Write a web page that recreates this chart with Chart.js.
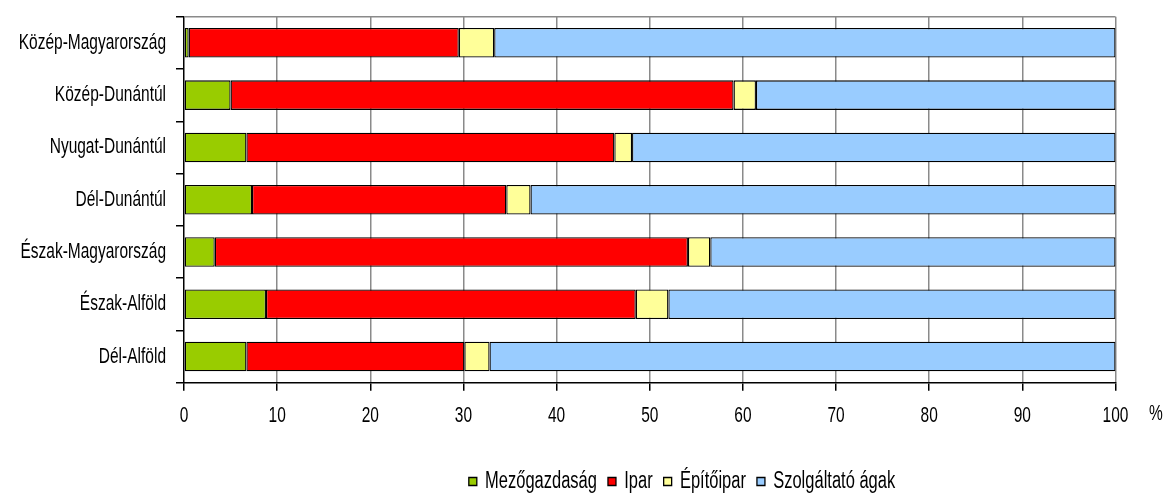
<!DOCTYPE html>
<html>
<head>
<meta charset="utf-8">
<script src="https://cdn.jsdelivr.net/npm/chart.js@4/dist/chart.umd.min.js"></script>
<style>
  html, body { margin: 0; padding: 0; background: #fff; }
</style>
</head>
<body>
<canvas id="regionChart" width="1169" height="494"></canvas>
<script>
// Regions (top to bottom)
const regions = [
  'Közép-Magyarország',
  'Közép-Dunántúl',
  'Nyugat-Dunántúl',
  'Dél-Dunántúl',
  'Észak-Magyarország',
  'Észak-Alföld',
  'Dél-Alföld'
];

// Share of each sector, %
const agriculture = [0.5, 5.0, 6.7, 7.3, 3.3, 8.8, 6.7];
const industry = [29.0, 54.0, 39.5, 27.3, 50.8, 39.7, 23.4];
const construction = [3.8, 2.4, 1.9, 2.6, 2.4, 3.5, 2.7];
const services = [66.7, 38.6, 51.9, 62.8, 43.5, 48.0, 67.2];

const seriesNames = ['Mezőgazdaság', 'Ipar', 'Építőipar', 'Szolgáltató ágak'];
const seriesColors = ['#99CC00', '#FF0000', '#FFFF99', '#99CCFF'];

const xTicks = [0, 10, 20, 30, 40, 50, 60, 70, 80, 90, 100];
const unitLabel = '%';

const FONT = "'Liberation Sans', Arial, sans-serif";
Chart.defaults.font.family = FONT;
Chart.defaults.font.size = 15.5;
Chart.defaults.color = '#000';

const GRID_GRAY = '#8a8a8a';
const TEXT_STRETCH = 1.4; // the original lettering is tall and narrow

// draw all canvas text a bit taller than it is wide
function stretchText(ctx) {
  if (ctx._stretched) return;
  const orig = ctx.fillText.bind(ctx);
  ctx.fillText = function(text, x, y, maxWidth) {
    this.save();
    this.translate(x, y);
    this.scale(1, TEXT_STRETCH);
    if (maxWidth === undefined) orig(text, 0, 0);
    else orig(text, 0, 0, maxWidth);
    this.restore();
  };
  ctx._stretched = true;
}

// top frame line + unit label, legend placement
const framePlugin = {
  id: 'frame',
  beforeInit(chart) {
    stretchText(chart.ctx);
  },
  afterLayout(chart) {
    const lg = chart.legend;
    if (!lg) return;
    const dx = 682 - (lg.left + lg.right) / 2;
    const dy = 5.75;
    lg.left += dx; lg.right += dx;
    lg.top += dy; lg.bottom += dy;
  },
  beforeDatasetsDraw(chart) {
    const { ctx, chartArea } = chart;
    ctx.save();
    ctx.strokeStyle = GRID_GRAY;
    ctx.lineWidth = 1.5;
    ctx.beginPath();
    ctx.moveTo(chartArea.left, chartArea.top);
    ctx.lineTo(chartArea.right, chartArea.top);
    ctx.stroke();
    ctx.restore();
  },
  afterDraw(chart) {
    const { ctx } = chart;
    ctx.save();
    ctx.font = '15.5px ' + FONT;
    ctx.fillStyle = '#000';
    ctx.textAlign = 'left';
    ctx.textBaseline = 'middle';
    ctx.fillText(unitLabel, 1149, 414);
    ctx.restore();
  }
};

const datasets = [agriculture, industry, construction, services].map((vals, i) => ({
  label: seriesNames[i],
  data: vals,
  backgroundColor: seriesColors[i],
  borderColor: '#000',
  borderWidth: 1.3,
  borderSkipped: false,
  barPercentage: 0.565,
  categoryPercentage: 1.0
}));

new Chart(document.getElementById('regionChart'), {
  type: 'bar',
  data: { labels: regions, datasets: datasets },
  plugins: [framePlugin],
  options: {
    indexAxis: 'y',
    responsive: false,
    animation: false,
    layout: {
      padding: { top: 16.7, right: 53.5, left: 0, bottom: 0 }
    },
    plugins: {
      legend: {
        position: 'bottom',
        labels: {
          boxWidth: 8,
          boxHeight: 8,
          padding: 11,
          font: { size: 16.5 }
        }
      },
      tooltip: { enabled: false }
    },
    scales: {
      x: {
        stacked: true,
        min: 0,
        max: 100,
        afterBuildTicks(axis) {
          axis.ticks = xTicks.map(v => ({ value: v }));
        },
        afterFit(axis) {
          axis.height = 73.8;
          axis.paddingLeft = 0;
          axis.paddingRight = 0;
        },
        grid: {
          color: c => (c.tick && c.tick.value === 0) ? 'rgba(0,0,0,0)' : GRID_GRAY,
          lineWidth: 1.5,
          tickColor: '#000',
          tickLength: 8
        },
        border: { color: '#000', width: 1.5 },
        ticks: { padding: 16, maxRotation: 0 }
      },
      y: {
        stacked: true,
        afterFit(axis) {
          axis.width = 184;
          axis.paddingTop = 0;
          axis.paddingBottom = 0;
        },
        grid: {
          drawOnChartArea: false,
          tickColor: '#000',
          tickLength: 8,
          lineWidth: 1.5
        },
        border: { color: '#000', width: 1.5 },
        ticks: { padding: 10 }
      }
    }
  }
});
</script>
</body>
</html>
